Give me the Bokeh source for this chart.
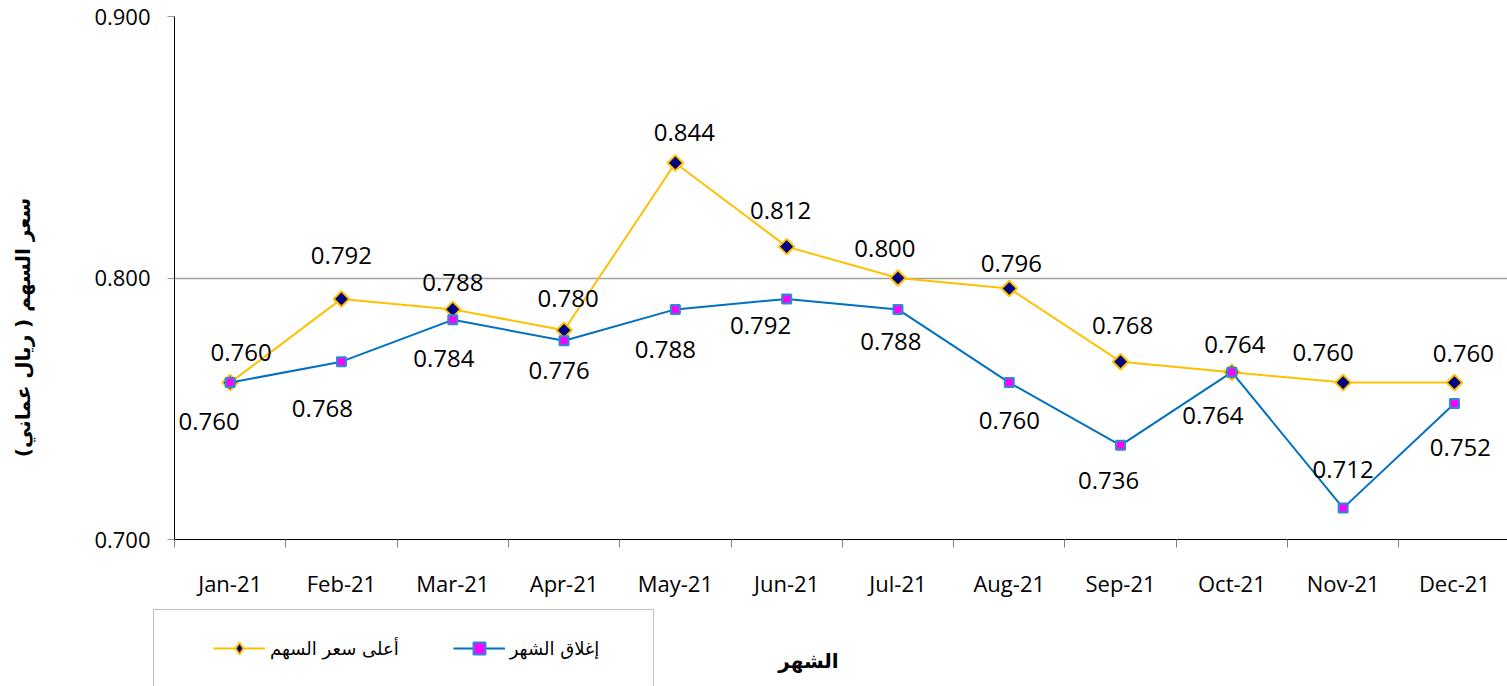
import numpy as np
from bokeh.plotting import figure
from bokeh.layouts import column, row
from bokeh.models import (Range1d, FixedTicker, Legend, LegendItem, Label,
                          ColumnDataSource, CustomJSTickFormatter)
from bokeh.core.properties import value
from bokeh.embed import file_html
from bokeh.resources import INLINE

months = ["Jan-21", "Feb-21", "Mar-21", "Apr-21", "May-21", "Jun-21",
          "Jul-21", "Aug-21", "Sep-21", "Oct-21", "Nov-21", "Dec-21"]
high_price = [0.760, 0.792, 0.788, 0.780, 0.844, 0.812,
              0.800, 0.796, 0.768, 0.764, 0.760, 0.760]
close_price = [0.760, 0.768, 0.784, 0.776, 0.788, 0.792,
               0.788, 0.760, 0.736, 0.764, 0.712, 0.752]
y_ticks = [0.700, 0.800, 0.900]

name_high = "أعلى سعر السهم"
name_close = "إغلاق الشهر"
x_title = "الشهر"
y_title = "سعر السهم ( ريال عماني)"

# label offsets in pixels (style only)
high_dx = [11, 0, 0, 4, 9, -6, -13, 2, 2, 3, -20, 9]
high_dy = [-30, -43, -27, -32, -30, -36, -30, -25, -36, -28, -30, -29]
close_dx = [-21, -19, -9, -5, -10, -26, -7, 0, -12, -19, 0, 6]
close_dy = [39, 47, 39, 30, 40, 27, 32, 38, 35, 43, -39, 44]

HIGH_LINE = "#FFC000"
HIGH_FILL = "#000080"
CLOSE_LINE = "#0070C0"
CLOSE_FILL = "#FF00FF"
CLOSE_EDGE = "#2E8BD0"

xs = [i + 0.5 for i in range(len(months))]


def blank(width, height):
    f = figure(width=width, height=height, output_backend="svg",
               toolbar_location=None, x_range=Range1d(100, 101),
               y_range=Range1d(100, 101), x_axis_type=None, y_axis_type=None,
               min_border_left=0, min_border_right=0, min_border_top=0,
               min_border_bottom=0)
    f.frame_align = False
    f.outline_line_color = None
    f.xgrid.grid_line_color = None
    f.ygrid.grid_line_color = None
    return f


# left strip: y title
r = blank(60, 600)
r.add_layout(Label(x=22, y=273, x_units="screen", y_units="screen",
                   text=y_title, angle=np.pi / 2, text_align="center",
                   text_baseline="middle", text_font="DejaVu Sans",
                   text_font_size="20px", text_font_style="bold",
                   text_color="black"))

# main chart
p = figure(width=1447, height=600, output_backend="svg", toolbar_location=None,
           x_range=Range1d(0, (1507 - 174) / 111.3), y_range=Range1d(0.7, 0.9),
           min_border_left=114, min_border_right=0, min_border_top=16,
           min_border_bottom=61)
p.frame_align = False
p.outline_line_color = None

p.xaxis.ticker = FixedTicker(ticks=xs, minor_ticks=list(range(13)))
p.xaxis.major_label_overrides = {x: m for x, m in zip(xs, months)}
p.xaxis.major_tick_line_color = None
p.xaxis.major_tick_out = 0
p.xaxis.major_tick_in = 0
p.xaxis.minor_tick_out = 8
p.xaxis.minor_tick_in = 0
p.xaxis.minor_tick_line_color = "#808080"
p.xaxis.axis_line_color = "black"
p.xaxis.major_label_text_font = "Open Sans"
p.xaxis.major_label_text_font_size = "22px"
p.xaxis.major_label_text_color = "black"
p.xaxis.major_label_standoff = 20

p.yaxis.ticker = FixedTicker(ticks=y_ticks, minor_ticks=[])
p.yaxis.formatter = CustomJSTickFormatter(code="return tick.toFixed(3);")
p.yaxis.major_tick_out = 7
p.yaxis.major_tick_in = 0
p.yaxis.major_tick_line_color = "#999999"
p.yaxis.axis_line_color = "black"
p.yaxis.major_label_text_font = "Open Sans"
p.yaxis.major_label_text_font_size = "22px"
p.yaxis.major_label_text_color = "black"
p.yaxis.major_label_standoff = 17

p.xgrid.grid_line_color = None
p.ygrid.ticker = FixedTicker(ticks=[0.8, 0.9])
p.ygrid.grid_line_color = "#a0a0a0"
p.ygrid.grid_line_width = 1.5

src_h = ColumnDataSource(dict(x=xs, y=high_price,
                              t=["%.3f" % v for v in high_price],
                              dx=high_dx, dy=high_dy))
src_c = ColumnDataSource(dict(x=xs, y=close_price,
                              t=["%.3f" % v for v in close_price],
                              dx=close_dx, dy=close_dy))

p.line("x", "y", source=src_h, line_color=HIGH_LINE, line_width=2)
p.scatter("x", "y", source=src_h, marker="square", angle=np.pi / 4, size=11,
          fill_color=HIGH_FILL, line_color=HIGH_LINE, line_width=2)
p.line("x", "y", source=src_c, line_color=CLOSE_LINE, line_width=2)
p.scatter("x", "y", source=src_c, marker="square", size=9,
          fill_color=CLOSE_FILL, line_color=CLOSE_EDGE, line_width=2)

for src in (src_h, src_c):
    p.text("x", "y", text="t", source=src, x_offset="dx", y_offset="dy",
           text_align="center", text_baseline="middle",
           text_font=value("Open Sans"), text_font_size="24px",
           text_color="black")

# bottom strip: legend and x title (its ranges keep the series out of view)
q = blank(1507, 86)

dummy = q.line("x", "y", source=src_h, line_alpha=0)
lh = q.line("x", "y", source=src_h, line_color=HIGH_LINE, line_width=2)
sh = q.scatter("x", "y", source=src_h, marker="diamond",
               fill_color=HIGH_FILL, line_color=HIGH_LINE, line_width=2)
lc = q.line("x", "y", source=src_c, line_color=CLOSE_LINE, line_width=2)
sc = q.scatter("x", "y", source=src_c, marker="square",
               fill_color=CLOSE_FILL, line_color=CLOSE_EDGE, line_width=2)

frame_legend = Legend(items=[LegendItem(label=" ", renderers=[dummy])],
                      location=(153, -30), orientation="horizontal",
                      padding=0, margin=0, spacing=0, glyph_width=1,
                      glyph_height=1, label_standoff=0, label_width=498,
                      label_height=105, border_line_color="#808080",
                      border_line_width=1.5, background_fill_color="white",
                      background_fill_alpha=1.0, label_text_font_size="1px")
q.add_layout(frame_legend, "center")

legend = Legend(items=[LegendItem(label=name_high, renderers=[lh, sh]),
                       LegendItem(label=name_close, renderers=[lc, sc])],
                location=(213, 23), orientation="horizontal",
                padding=0, margin=0, spacing=54, glyph_width=52,
                glyph_height=30, label_standoff=5,
                border_line_color=None, background_fill_alpha=0,
                label_text_font="DejaVu Sans", label_text_font_size="18px",
                label_text_color="black")
q.add_layout(legend, "center")

q.add_layout(Label(x=808, y=26, x_units="screen", y_units="screen",
                   text=x_title, text_align="center",
                   text_baseline="middle", text_font="DejaVu Sans",
                   text_font_size="20px", text_font_style="bold",
                   text_color="black"))

layout = column(row(r, p, spacing=0), q, spacing=0)
open("out.html", "w").write(file_html(layout, INLINE))
